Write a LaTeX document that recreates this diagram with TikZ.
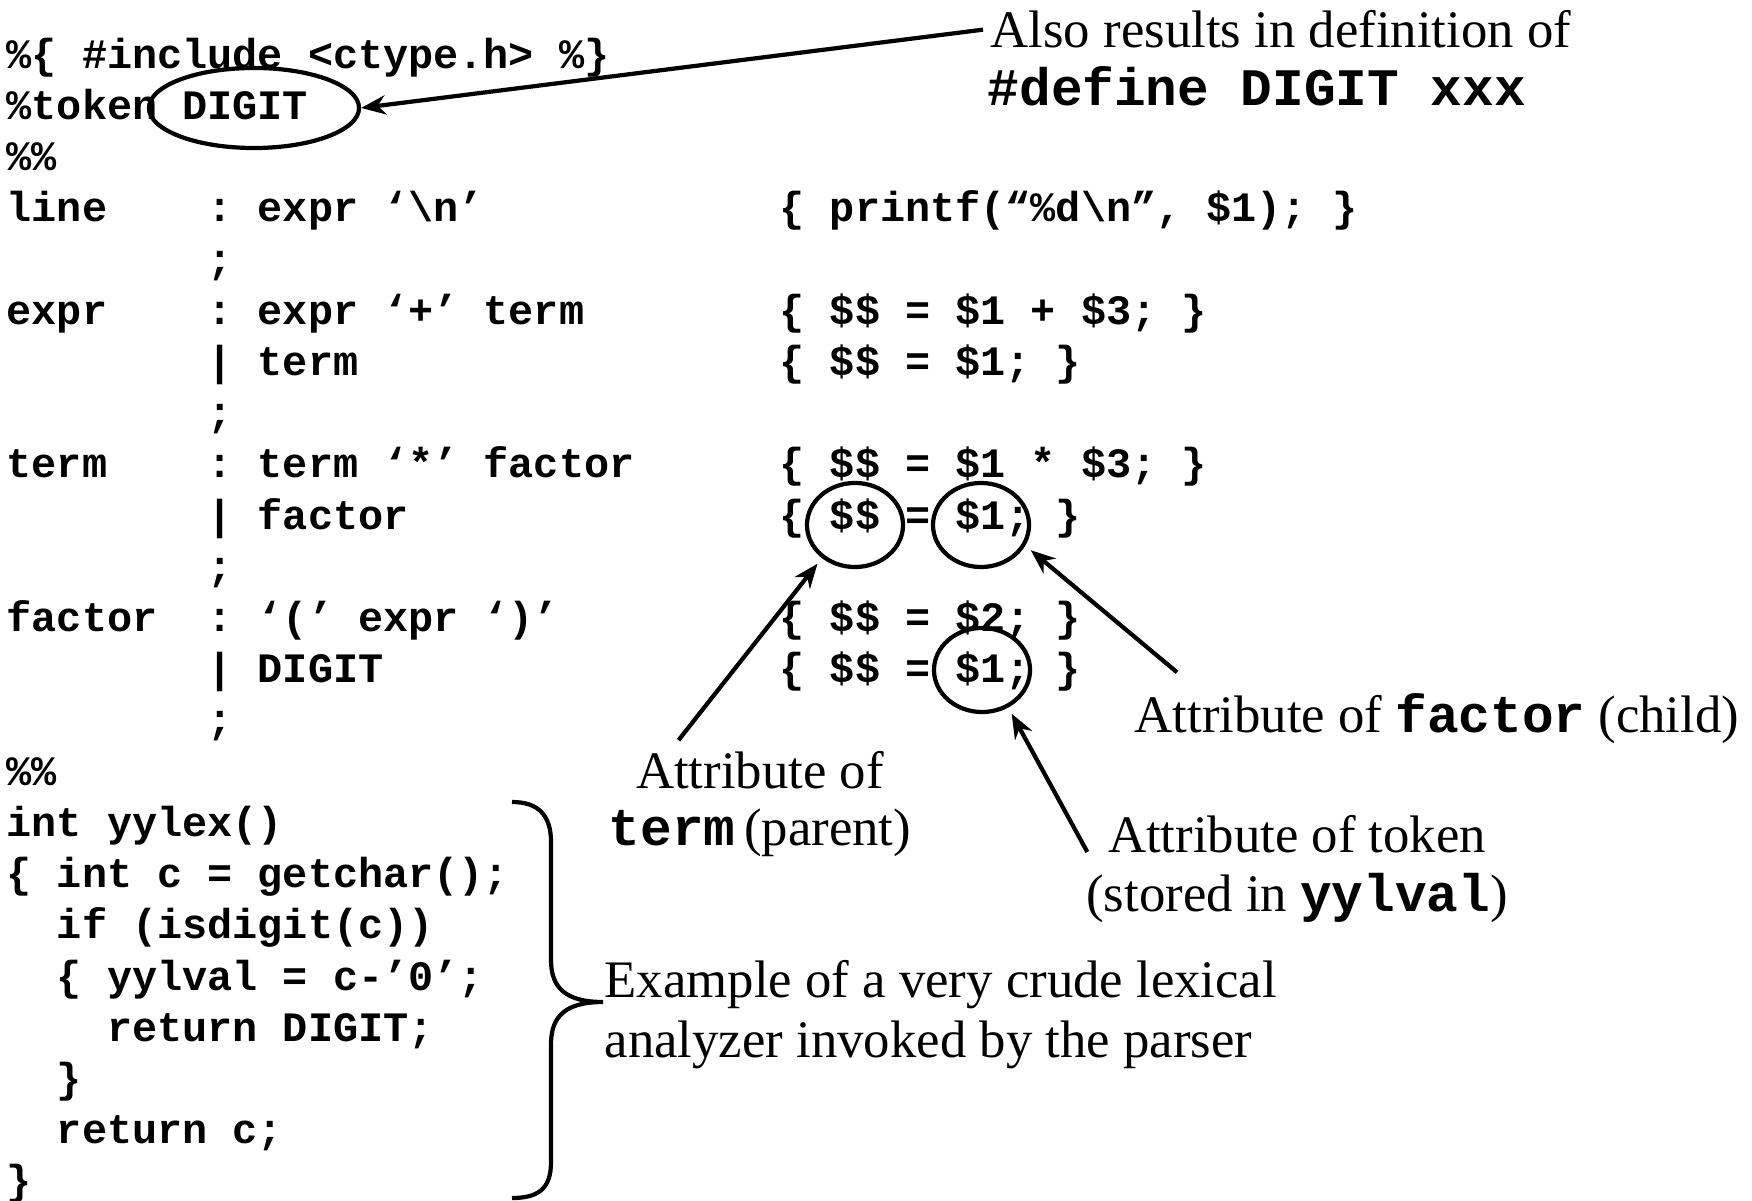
\documentclass[tikz,border=0pt]{standalone}
\usepackage{fontspec}
\setmainfont{Liberation Serif}
\setmonofont{Liberation Mono}
\usetikzlibrary{arrows.meta,shapes.geometric}

\begin{document}
\begin{tikzpicture}[x=0.01cm,y=-0.01cm,
  code/.style={anchor=base west,inner sep=0pt,font=\fontsize{11.9}{14.5}\selectfont\ttfamily\bfseries},
  note/.style={inner sep=0pt,font=\fontsize{15}{17}\selectfont},
  ring/.style={draw,ellipse,line width=1.2pt,inner sep=0pt,minimum width=0.96cm,minimum height=0.84cm},
  pointer/.style={line width=1.2pt,-{Stealth[length=7pt,width=5.5pt]}}]
\useasboundingbox (0,0) rectangle (1752,1201);

% declarations
\node[code] (c0) at (6,68.4) {\%\{~\#include~<ctype.h>~\%\}};
\node[code] (c1) at (6,119.6) {\%token~DIGIT};
\node[code] (c2) at (6,170.8) {\%\%};

% grammar rules
\node[code] (c3) at (6,222.0) {line~~~~:~expr~‘\textbackslash n’};
\node[code] (c4) at (6,273.2) {~~~~~~~~;};
\node[code] (c5) at (6,324.4) {expr~~~~:~expr~‘+’~term};
\node[code] (c6) at (6,375.6) {~~~~~~~~|~term};
\node[code] (c7) at (6,426.8) {~~~~~~~~;};
\node[code] (c8) at (6,478.0) {term~~~~:~term~‘*’~factor};
\node[code] (c9) at (6,529.2) {~~~~~~~~|~factor};
\node[code] (c10) at (6,580.4) {~~~~~~~~;};
\node[code] (c11) at (6,631.6) {factor~~:~‘(’~expr~‘)’};
\node[code] (c12) at (6,682.8) {~~~~~~~~|~DIGIT};
\node[code] (c13) at (6,734.0) {~~~~~~~~;};

% actions
\node[code] (a3) at (779,222.0) {\{~printf(“\%d\textbackslash n”,~\$1);~\}};
\node[code] (a5) at (779,324.4) {\{~\$\$~=~\$1~+~\$3;~\}};
\node[code] (a6) at (779,375.6) {\{~\$\$~=~\$1;~\}};
\node[code] (a8) at (779,478.0) {\{~\$\$~=~\$1~*~\$3;~\}};
\node[code] (a9) at (779,529.2) {\{~\$\$~=~\$1;~\}};
\node[code] (a11) at (779,631.6) {\{~\$\$~=~\$2;~\}};
\node[code] (a12) at (779,682.8) {\{~\$\$~=~\$1;~\}};

% lexer
\node[code] (c14) at (6,785.2) {\%\%};
\node[code] (c15) at (6,836.4) {int~yylex()};
\node[code] (c16) at (6,887.6) {\{~int~c~=~getchar();};
\node[code] (c17) at (6,938.8) {~~if~(isdigit(c))};
\node[code] (c18) at (6,990.0) {~~\{~yylval~=~c-’0’;};
\node[code] (c19) at (6,1041.2) {~~~~return~DIGIT;};
\node[code] (c20) at (6,1092.4) {~~\}};
\node[code] (c21) at (6,1143.6) {~~return~c;};
\node[code] (c22) at (6,1194.8) {\}};

% rings
\node[ring,minimum width=2.1cm,minimum height=0.8cm] (digitell) at (254,108) {};
\node[ring] (parell) at (855,525) {};
\node[ring] (childell) at (981,525) {};
\node[ring] (lexell) at (982,670) {};

% notes
\node[note,anchor=base west] (alsotxt) at (990,48) {Also results in definition of};
\node[note,anchor=base west,font=\fontsize{15}{17}\selectfont\ttfamily\bfseries] (definetxt) at (987,106) {\#define DIGIT xxx};
\node[note,anchor=base west] (facttxt) at (1134,732) {Attribute of \texttt{\bfseries factor} (child)};
\node[note,anchor=base] (termtop) at (760,788) {Attribute of};
\node[note,anchor=base] (termbot) at (760,846) {\texttt{\bfseries term}\,(parent)};
\node[note,anchor=base] (toktop) at (1297,852) {Attribute of token};
\node[note,anchor=base] (tokbot) at (1297,911) {(stored in \texttt{\bfseries yylval})};
\node[note,anchor=base west] (lextop) at (604,997) {Example of a very crude lexical};
\node[note,anchor=base west] (lexbot) at (604,1057) {analyzer invoked by the parser};

% pointers
\draw[pointer] ([xshift=-0.07cm]alsotxt.west) -- (digitell.east);
\draw[pointer,shorten >=2pt] ([xshift=0.43cm,yshift=0.1cm]termtop.north west) -- (parell.225);
\draw[pointer,shorten >=2pt] ([xshift=0.43cm,yshift=0.2cm]facttxt.north west) -- (childell.-25);
\draw[pointer,shorten >=2pt] ([xshift=-0.2cm]toktop.base west) -- (lexell.-55);

% brace
\draw[line width=1.2pt] (512,802) .. controls (538,802) and (551,815) .. (551,842) -- (551,960)
  .. controls (551,988) and (566,1002) .. (603,1002)
  .. controls (566,1002) and (551,1016) .. (551,1044) -- (551,1162)
  .. controls (551,1189) and (538,1198) .. (512,1198);

\end{tikzpicture}
\end{document}
